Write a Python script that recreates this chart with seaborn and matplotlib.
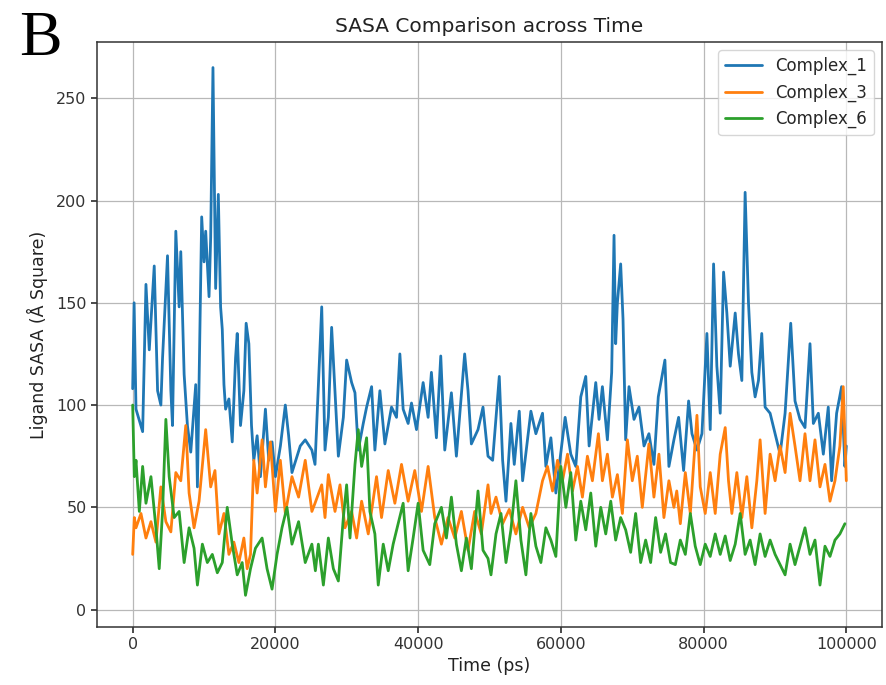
import matplotlib
matplotlib.use("Agg")
import matplotlib.pyplot as plt
import seaborn as sns
import pandas as pd

# ---------------- data ----------------
labels = ["Complex_1", "Complex_3", "Complex_6"]

t1 = [0, 200, 465, 1395, 1860, 2325, 3020, 3490, 3950, 4185, 4880, 5350, 5580, 6045, 6510, 6740,
      7210, 7670, 8140, 8835, 9070, 9670, 10000, 10230, 10700, 10930, 11250, 11625, 12000, 12320,
      12555, 12790, 13020, 13485, 13950, 14415, 14650, 15110, 15580, 15900, 16280, 16650, 16970,
      17440, 17900, 18600, 19065, 19530, 20000, 20700, 21390, 21855, 22320, 23480, 24180, 25110,
      25550, 26490, 26950, 27420, 27880, 28350, 28820, 29520, 29980, 30680, 31150, 31610, 32310,
      32780, 33480, 33940, 34640, 35340, 36270, 36970, 37440, 37900, 38600, 39070, 39770, 40700,
      41400, 41860, 42560, 43170, 43730, 44660, 45360, 46520, 46990, 47460, 48390, 49090, 49790,
      50440, 51370, 51840, 52310, 53000, 53470, 54170, 54640, 55800, 56500, 57430, 57900, 58600,
      59300, 60600, 61390, 62090, 62790, 63490, 63960, 64890, 65350, 65820, 66520, 67120, 67450,
      67680, 67920, 68380, 68710, 69080, 69550, 70250, 70950, 71650, 72340, 73040, 73650, 74580,
      75140, 75840, 76500, 77200, 77900, 78370, 79070, 79770, 80465, 80930, 81400, 81860, 82330,
      82800, 83260, 83730, 84430, 84890, 85360, 85820, 86290, 86760, 87220, 87690, 88150, 88620,
      89320, 90020, 90720, 91420, 92210, 92810, 93510, 94210, 94910, 95380, 96080, 96780, 97470,
      97940, 98640, 99340, 99800, 100000]
v1 = [108, 150, 98, 87, 159, 127, 168, 107, 100, 123, 173, 107, 90, 185, 148, 175,
      115, 90, 77, 110, 60, 192, 170, 185, 153, 182, 265, 157, 203, 148,
      137, 110, 98, 103, 82, 123, 135, 90, 107, 140, 130, 90, 73,
      85, 65, 98, 73, 82, 65, 80, 100, 85, 67, 80, 83, 78,
      71, 148, 78, 94, 138, 106, 75, 94, 122, 111, 106, 78, 91,
      99, 109, 78, 107, 81, 99, 94, 125, 98, 91, 101, 88, 111,
      94, 116, 84, 124, 78, 106, 75, 125, 107, 81, 88, 99, 75,
      73, 114, 73, 53, 91, 71, 97, 63, 97, 86, 96, 70, 84,
      57, 94, 76, 70, 104, 114, 80, 111, 93, 109, 83, 116, 183,
      130, 150, 169, 142, 83, 109, 93, 99, 80, 86, 71, 104, 122,
      70, 83, 94, 68, 102, 86, 78, 86, 135, 88, 169, 119, 96,
      165, 145, 119, 145, 125, 112, 204, 150, 116, 104, 112, 135, 99,
      96, 86, 76, 96, 140, 102, 93, 89, 130, 91, 96, 76, 99,
      63, 96, 109, 70, 80]

t3 = [0, 230, 465, 1160, 1860, 2560, 3255, 3950, 4650, 5350, 6045, 6740, 7440, 7905, 8600, 9300,
      10230, 10930, 11530, 12090, 12790, 13485, 14180, 14880, 15580, 16040, 16510, 16970, 17440,
      18135, 18600, 19300, 20000, 20690, 21390, 22320, 23250, 24180, 25110, 25550, 26490, 26950,
      27420, 28350, 29050, 29750, 30680, 31380, 32080, 33010, 34170, 34870, 35810, 36740, 37670,
      38600, 39530, 40470, 41400, 42330, 43260, 44190, 45130, 46060, 46990, 47920, 48850, 49790,
      50210, 50910, 51840, 52770, 53700, 54640, 55570, 56500, 57430, 58130, 58830, 59530, 60230,
      60930, 61630, 62330, 63020, 63720, 64420, 65260, 65820, 66520, 67220, 67920, 68620, 69320,
      70010, 70710, 71410, 72340, 73040, 73740, 74440, 75140, 75840, 76240, 76740, 77440, 78140,
      79070, 79530, 80230, 80930, 81630, 82330, 83030, 83490, 83960, 84660, 85360, 86060, 86760,
      87460, 87920, 88620, 89320, 90020, 90720, 91420, 92120, 92810, 93510, 94210, 94910, 95610,
      96310, 97010, 97710, 98410, 99100, 99570, 100000]
v3 = [27, 45, 40, 47, 35, 43, 33, 60, 43, 38, 67, 63, 90, 57, 40, 53,
      88, 60, 68, 37, 47, 27, 33, 23, 35, 20, 27, 73, 57,
      83, 60, 82, 48, 73, 47, 65, 55, 73, 48, 52, 61, 45,
      66, 48, 61, 40, 48, 35, 53, 37, 65, 45, 68, 52, 71,
      53, 68, 48, 70, 45, 32, 45, 35, 48, 29, 48, 37, 61,
      47, 55, 42, 49, 37, 50, 40, 47, 63, 70, 58, 73, 63,
      76, 58, 70, 55, 75, 63, 86, 63, 76, 55, 66, 47, 83,
      63, 75, 50, 81, 55, 76, 45, 63, 50, 58, 42, 67, 47,
      95, 60, 47, 67, 47, 76, 89, 63, 47, 67, 45, 65, 40,
      63, 83, 47, 76, 63, 80, 67, 96, 80, 63, 86, 63, 83,
      60, 71, 53, 63, 80, 109, 63]

t6 = [0, 230, 465, 930, 1395, 1860, 2560, 3255, 3720, 4185, 4650, 5115, 5810, 6510, 7210, 7905,
      8600, 9070, 9765, 10460, 11160, 11860, 12555, 13250, 13950, 14650, 15345, 15810, 16510,
      17200, 18135, 18830, 19530, 20230, 20925, 21620, 22320, 23250, 24180, 25110, 25600, 26020,
      26720, 27420, 28120, 28820, 29520, 29980, 30450, 31150, 31610, 32080, 32780, 33240, 33940,
      34410, 35110, 35810, 36500, 37200, 37900, 38600, 39300, 40000, 40700, 41630, 42330, 43260,
      43960, 44660, 45360, 46060, 46760, 47460, 48390, 49090, 49790, 50210, 50910, 51610, 52310,
      53000, 53700, 54400, 55100, 55800, 56500, 57200, 57900, 58600, 59300, 59995, 60700, 61390,
      62090, 62790, 63490, 64190, 64890, 65590, 66290, 66990, 67680, 68380, 69080, 69780, 70480,
      71180, 71880, 72580, 73280, 73980, 74670, 75370, 76040, 76740, 77440, 78140, 78830, 79530,
      80230, 80930, 81630, 82330, 83030, 83730, 84430, 85130, 85820, 86520, 87220, 87920, 88620,
      89320, 90020, 90720, 91420, 92120, 92810, 93510, 94210, 94910, 95610, 96310, 97010, 97710,
      98410, 99100, 99800]
v6 = [100, 65, 73, 48, 70, 52, 65, 40, 20, 48, 93, 65, 45, 48, 23, 40,
      30, 12, 32, 23, 27, 18, 23, 50, 32, 17, 23, 7, 20,
      30, 35, 20, 10, 27, 40, 50, 32, 43, 23, 32, 19, 32,
      12, 35, 20, 14, 45, 61, 35, 71, 88, 70, 84, 48, 37,
      12, 32, 19, 32, 42, 52, 19, 35, 52, 29, 22, 42, 50,
      35, 55, 32, 19, 35, 20, 58, 29, 25, 17, 37, 47, 23,
      39, 63, 34, 17, 47, 31, 23, 40, 34, 26, 70, 50, 67,
      34, 53, 39, 57, 31, 50, 37, 53, 34, 45, 39, 28, 47,
      23, 34, 23, 45, 28, 37, 23, 22, 34, 27, 47, 31, 22,
      32, 26, 37, 27, 36, 24, 32, 47, 27, 34, 22, 37, 26,
      34, 27, 22, 17, 32, 22, 31, 40, 27, 34, 12, 31, 26,
      34, 37, 42]

x_ticks = [0, 20000, 40000, 60000, 80000, 100000]
y_ticks = [0, 50, 100, 150, 200, 250]

# ---------------- build table ----------------
frames = []
for lab, tt, vv in zip(labels, [t1, t3, t6], [v1, v3, v6]):
    frames.append(pd.DataFrame({"Time": tt, "SASA": vv, "Complex": lab}))
df = pd.concat(frames, ignore_index=True)

# ---------------- style ----------------
sns.set_theme(style="ticks", rc={
    "axes.grid": True,
    "grid.color": "#b8b8b8",
    "grid.linewidth": 0.9,
    "axes.edgecolor": "#333333",
    "axes.linewidth": 1.1,
})
plt.rcParams["font.family"] = ["DejaVu Sans"]

fig = plt.figure(figsize=(8.86, 6.85), dpi=100)
ax = fig.add_axes([97 / 886, 1 - 627 / 685, (882 - 97) / 886, (627 - 42) / 685])

palette = ["#1f77b4", "#ff7f0e", "#2ca02c"]
sns.lineplot(data=df, x="Time", y="SASA", hue="Complex", hue_order=labels,
             palette=palette, estimator=None, sort=False, linewidth=2.0, ax=ax)

ax.set_xlim(-5000, 105000)
ax.set_ylim(-8.5, 277.5)
ax.set_xticks(x_ticks)
ax.set_yticks(y_ticks)
ax.tick_params(labelsize=11.5, colors="#333333", length=4)
ax.set_xlabel("Time (ps)", fontsize=12.5, color="#222222", labelpad=3)
ax.set_ylabel("Ligand SASA (Å Square)", fontsize=12.5, color="#222222", labelpad=6)
ax.set_title("SASA Comparison across Time", fontsize=14.5, color="#222222", pad=7)

leg = ax.legend(loc="upper right", fontsize=12, frameon=True, title=None,
                handlelength=2.2)
leg.get_frame().set_edgecolor("#cccccc")

fig.text(0.022, 0.92, "B", fontsize=46, family=["Liberation Serif", "DejaVu Serif"],
         color="black")

fig.savefig("out.png", dpi=100)
